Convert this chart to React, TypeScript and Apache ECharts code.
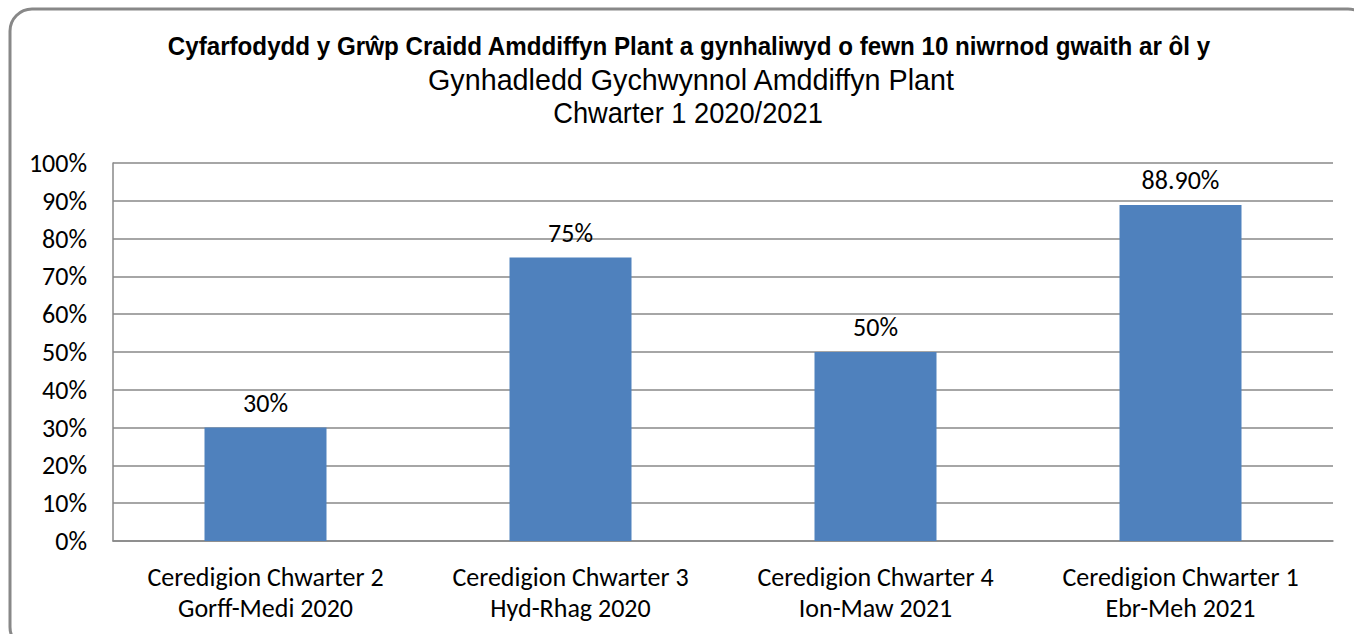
import React, { useEffect, useRef } from "react";
import * as echarts from "echarts";

const titleLines = [
  "Cyfarfodydd y Grŵp Craidd Amddiffyn Plant a gynhaliwyd o fewn 10 niwrnod gwaith ar ôl y",
  "Gynhadledd Gychwynnol Amddiffyn Plant",
  "Chwarter 1 2020/2021",
];
const categories = [
  "Ceredigion Chwarter 2\nGorff-Medi 2020",
  "Ceredigion Chwarter 3\nHyd-Rhag 2020",
  "Ceredigion Chwarter 4\nIon-Maw 2021",
  "Ceredigion Chwarter 1\nEbr-Meh 2021",
];
const values = [30, 75, 50, 88.9];

const GRAY = "#888888";
const BODY_FONT = "Carlito, Lato, 'Open Sans', sans-serif";
const TITLE_FONT = "'Liberation Sans', Arial, sans-serif";

export default function App() {
  const ref = useRef<HTMLDivElement>(null);
  useEffect(() => {
    if (!ref.current) return;
    const chart = echarts.init(ref.current, undefined, { renderer: "svg" });
    chart.setOption({
      animation: false,
      backgroundColor: "#ffffff",
      grid: { left: 113, right: 21, top: 163, bottom: 93 },
      graphic: [
        {
          type: "rect",
          shape: { x: 10, y: 9, width: 1360, height: 640, r: 22 },
          style: { fill: "none", stroke: GRAY, lineWidth: 3 },
          z: 10,
        },
        {
          type: "text",
          x: 689,
          y: 46,
          scaleX: 0.93,
          style: {
            text: titleLines[0],
            font: `bold 26px ${TITLE_FONT}`,
            fill: "#000",
            textAlign: "center",
            textVerticalAlign: "middle",
          },
        },
        {
          type: "text",
          x: 691,
          y: 80,
          scaleX: 0.99,
          style: {
            text: titleLines[1],
            font: `29px ${TITLE_FONT}`,
            fill: "#000",
            textAlign: "center",
            textVerticalAlign: "middle",
          },
        },
        {
          type: "text",
          x: 688,
          y: 113,
          scaleX: 0.94,
          style: {
            text: titleLines[2],
            font: `29px ${TITLE_FONT}`,
            fill: "#000",
            textAlign: "center",
            textVerticalAlign: "middle",
          },
        },
      ],
      xAxis: {
        type: "category",
        data: categories,
        axisLine: { show: true, lineStyle: { color: GRAY, width: 1.5 } },
        axisTick: { show: false },
        axisLabel: {
          interval: 0,
          color: "#000",
          fontFamily: BODY_FONT,
          fontSize: 26,
          lineHeight: 31,
          margin: 20,
        },
      },
      yAxis: {
        type: "value",
        min: 0,
        max: 100,
        interval: 10,
        axisLine: { show: true, lineStyle: { color: GRAY, width: 1.5 } },
        axisTick: { show: false },
        splitLine: { show: true, lineStyle: { color: GRAY, width: 1.5 } },
        axisLabel: {
          color: "#000",
          fontFamily: BODY_FONT,
          fontSize: 26,
          margin: 26,
          formatter: "{value}%",
        },
      },
      series: [
        {
          type: "bar",
          data: values,
          barWidth: "40%",
          itemStyle: { color: "#4F81BD" },
          label: {
            show: true,
            position: "top",
            distance: 12,
            color: "#000",
            fontFamily: BODY_FONT,
            fontSize: 26,
            formatter: (p: any) =>
              Number.isInteger(p.value) ? `${p.value}%` : `${p.value.toFixed(2)}%`,
          },
        },
      ],
    });
    return () => chart.dispose();
  }, []);
  return (
    <div
      ref={ref}
      style={{ position: "fixed", left: 0, top: 0, width: 1354, height: 634 }}
    />
  );
}
